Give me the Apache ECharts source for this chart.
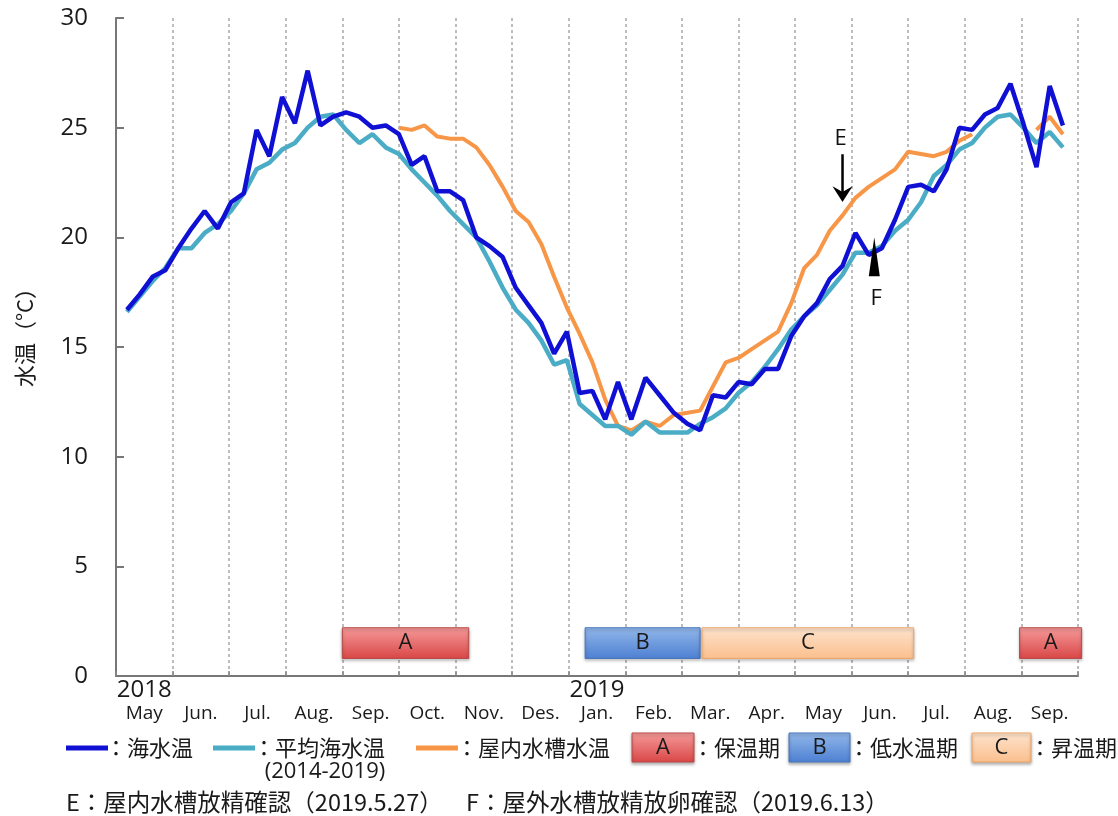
<!DOCTYPE html>
<html>
<head>
<meta charset="utf-8">
<title>水温の推移</title>
<script src="https://cdn.jsdelivr.net/npm/echarts@6/dist/echarts.min.js"></script>
<style>
  html, body { margin: 0; padding: 0; background: #fff; }
  #chart { width: 1118px; height: 816px; }
</style>
</head>
<body>
<div id="chart"></div>
<script>
// Month labels under the axis (one per month, May 2018 – Sep 2019)
const monthLabels = ['May', 'Jun.', 'Jul.', 'Aug.', 'Sep.', 'Oct.', 'Nov.', 'Des.',
                     'Jan.', 'Feb.', 'Mar.', 'Apr.', 'May', 'Jun.', 'Jul.', 'Aug.', 'Sep.'];
const yearLabels = { 0: '2018', 8: '2019' };

// Weekly readings, the first one taken on this date
const firstWeek = '2018-05-07';

// 海水温 (°C)
const seaTemp = [
  16.7, 17.4, 18.2, 18.5, 19.5, 20.4, 21.2, 20.4, 21.6, 22.0,
  24.9, 23.7, 26.4, 25.2, 27.6, 25.1, 25.5, 25.7, 25.5, 25.0,
  25.1, 24.7, 23.3, 23.7, 22.1, 22.1, 21.7, 20.0, 19.6, 19.1,
  17.7, 16.9, 16.1, 14.7, 15.7, 12.9, 13.0, 11.7, 13.4, 11.7,
  13.6, 12.8, 12.0, 11.5, 11.2, 12.8, 12.7, 13.4, 13.3, 14.0,
  14.0, 15.5, 16.4, 17.0, 18.1, 18.7, 20.2, 19.2, 19.5, 20.8,
  22.3, 22.4, 22.1, 23.1, 25.0, 24.9, 25.6, 25.9, 27.0, 25.2,
  23.2, 26.9, 25.1
];

// 平均海水温 2014-2019 (°C)
const avgTemp = [
  16.6, 17.3, 18.0, 18.6, 19.5, 19.5, 20.2, 20.6, 21.2, 22.0,
  23.1, 23.4, 24.0, 24.3, 25.0, 25.5, 25.6, 24.9, 24.3, 24.7,
  24.1, 23.8, 23.1, 22.5, 21.9, 21.2, 20.6, 20.0, 18.9, 17.7,
  16.7, 16.1, 15.3, 14.2, 14.4, 12.4, 11.9, 11.4, 11.4, 11.0,
  11.6, 11.1, 11.1, 11.1, 11.5, 11.8, 12.2, 12.9, 13.4, 14.1,
  14.9, 15.8, 16.4, 16.9, 17.6, 18.3, 19.3, 19.3, 19.6, 20.3,
  20.8, 21.6, 22.8, 23.3, 24.0, 24.3, 25.0, 25.5, 25.6, 25.0,
  24.3, 24.8, 24.1
];

// 屋内水槽水温 (°C), null = not measured
const tankTemp = [
  null, null, null, null, null, null, null, null, null, null,
  null, null, null, null, null, null, null, null, null, null,
  null, 25.0, 24.9, 25.1, 24.6, 24.5, 24.5, 24.1, 23.3, 22.3,
  21.2, 20.7, 19.7, 18.2, 16.8, 15.6, 14.3, 12.6, 11.4, 11.2,
  11.6, 11.4, 11.9, 12.0, 12.1, 13.2, 14.3, 14.5, 14.9, 15.3,
  15.7, 17.0, 18.6, 19.2, 20.3, 21.0, 21.8, 22.3, 22.7, 23.1,
  23.9, 23.8, 23.7, 23.9, 24.4, 24.7, null, null, null, null,
  24.9, 25.5, 24.7
];

// Rearing phases
const phases = [
  { name: 'A', from: '2018-09-01', to: '2018-11-08' },
  { name: 'B', from: '2019-01-10', to: '2019-03-11' },
  { name: 'C', from: '2019-03-12', to: '2019-07-04' },
  { name: 'A', from: '2019-08-31', to: '2019-10-03' }
];
const phaseNames = { A: '保温期', B: '低水温期', C: '昇温期' };

// Spawning observations
const events = [
  { label: 'E', date: '2019-05-27', text: '屋内水槽放精確認', temp: 21.6, dir: 'down' },
  { label: 'F', date: '2019-06-13', text: '屋外水槽放精放卵確認', temp: 20.0, dir: 'up' }
];

// ---- helpers ----
const FONT_LATIN = '"Open Sans", "Noto Sans CJK JP", sans-serif';
const FONT_CJK = '"Noto Sans CJK JP", "Open Sans", sans-serif';

function parseDate(s) {
  const [y, m, d] = s.split('-').map(Number);
  return new Date(Date.UTC(y, m - 1, d));
}
// Position on the month axis: 0 = 1 May 2018, 1 = 1 Jun 2018, ...
function monthPos(date) {
  const y = date.getUTCFullYear(), m = date.getUTCMonth();
  const dim = new Date(Date.UTC(y, m + 1, 0)).getUTCDate();
  return (y - 2018) * 12 + (m - 4) + (date.getUTCDate() - 1) / dim;
}
function weekPos(k) {
  return monthPos(new Date(parseDate(firstWeek).getTime() + k * 7 * 86400000));
}
const toPoints = arr => arr.map((v, k) => [weekPos(k), v]);

const phaseColors = {
  A: ['#f59a9a', '#d94646', '#b84a48'],
  B: ['#92b7ea', '#4d80d2', '#4676bd'],
  C: ['#fde3cd', '#fbbf8d', '#eda66a']
};
const LINE_BLUE = '#1010d4', LINE_CYAN = '#4bacc6', LINE_ORANGE = '#f79646';

const chart = echarts.init(document.getElementById('chart'), null, { renderer: 'canvas' });

const legendRowY = 748;
const swatch = (x, color) => ({ type: 'rect', shape: { x: x, y: legendRowY - 2.5, width: 42, height: 5 }, style: { fill: color } });
const label = (x, y, text, extra) => ({ type: 'text', x: x, y: y, style: Object.assign({ text: text, font: '22px ' + FONT_CJK, fill: '#1a1a1a', verticalAlign: 'middle' }, extra || {}) });
const keyBox = (x, w, name) => {
  const c = phaseColors[name];
  return {
    type: 'group', children: [
      { type: 'rect', shape: { x: x, y: 733, width: w, height: 29 },
        style: { fill: new echarts.graphic.LinearGradient(0, 0, 0, 1, [{ offset: 0, color: c[0] }, { offset: 1, color: c[1] }]),
                 stroke: c[2], lineWidth: 1, shadowBlur: 3, shadowOffsetY: 2, shadowColor: 'rgba(0,0,0,0.3)' } },
      { type: 'text', x: x + w / 2, y: 748, style: { text: name, font: '22px ' + FONT_LATIN, fill: '#1a1a1a', align: 'center', verticalAlign: 'middle' } }
    ]
  };
};
const eventCaption = e => e.label + '：' + e.text + '（' + e.date.split('-').map(Number).join('.') + '）';

const option = {
  animation: false,
  backgroundColor: '#fff',
  grid: { left: 116, right: 40, top: 18, bottom: 140 },
  xAxis: [
    {
      type: 'value', min: 0, max: 17, interval: 1, position: 'bottom',
      axisLine: { show: true, lineStyle: { color: '#777', width: 2 } },
      axisTick: { show: true, inside: true, length: 5, lineStyle: { color: '#888', width: 1.5 } },
      axisLabel: { show: false },
      splitLine: { show: true, lineStyle: { color: '#a8a8a8', width: 1.5, type: [3, 3] } }
    },
    {
      type: 'category', data: monthLabels, position: 'bottom', boundaryGap: true,
      axisLine: { show: false }, axisTick: { show: false }, splitLine: { show: false },
      axisLabel: {
        interval: 0, margin: 2, verticalAlign: 'top',
        formatter: (v, i) => '{y|' + (yearLabels[i] || ' ') + '}\n{m|' + v + '}',
        rich: {
          y: { fontSize: 24, lineHeight: 24, fontFamily: FONT_LATIN, color: '#1a1a1a' },
          m: { fontSize: 19, lineHeight: 24, fontFamily: FONT_LATIN, color: '#1a1a1a' }
        }
      }
    }
  ],
  yAxis: {
    type: 'value', min: 0, max: 30, interval: 5,
    axisLine: { show: true, lineStyle: { color: '#777', width: 2 } },
    axisTick: { show: true, inside: true, length: 8, lineStyle: { color: '#777', width: 2 } },
    axisLabel: { fontSize: 24, fontFamily: FONT_LATIN, color: '#1a1a1a', margin: 28 },
    splitLine: { show: false }
  },
  series: [
    {
      name: '屋内水槽水温', type: 'line', xAxisIndex: 0, data: toPoints(tankTemp),
      showSymbol: false, connectNulls: false, z: 2,
      lineStyle: { color: LINE_ORANGE, width: 4 }, itemStyle: { color: LINE_ORANGE }
    },
    {
      name: '平均海水温', type: 'line', xAxisIndex: 0, data: toPoints(avgTemp),
      showSymbol: false, z: 3,
      lineStyle: { color: LINE_CYAN, width: 4.5 }, itemStyle: { color: LINE_CYAN }
    },
    {
      name: '海水温', type: 'line', xAxisIndex: 0, data: toPoints(seaTemp),
      showSymbol: false, z: 4,
      lineStyle: { color: LINE_BLUE, width: 4.5 }, itemStyle: { color: LINE_BLUE }
    },
    {
      name: 'phases', type: 'custom', xAxisIndex: 0, clip: false, z: 5,
      data: phases.map(p => [monthPos(parseDate(p.from)), monthPos(parseDate(p.to))]),
      renderItem: (params, api) => {
        const p = phases[params.dataIndex];
        const a = api.coord([api.value(0), 2.2]);
        const b = api.coord([api.value(1), 0.8]);
        const c = phaseColors[p.name];
        return {
          type: 'group', children: [
            { type: 'rect', shape: { x: a[0], y: a[1], width: b[0] - a[0], height: b[1] - a[1] },
              style: { fill: new echarts.graphic.LinearGradient(0, 0, 0, 1, [{ offset: 0, color: c[0] }, { offset: 1, color: c[1] }]),
                       stroke: c[2], lineWidth: 1, shadowBlur: 3, shadowOffsetY: 2, shadowColor: 'rgba(0,0,0,0.3)' } },
            { type: 'text', x: (a[0] + b[0]) / 2, y: (a[1] + b[1]) / 2,
              style: { text: p.name, font: '22px ' + FONT_LATIN, fill: '#1a1a1a', align: 'center', verticalAlign: 'middle' } }
          ]
        };
      }
    },
    {
      name: 'events', type: 'custom', xAxisIndex: 0, clip: false, z: 6,
      data: events.map(e => [monthPos(parseDate(e.date)), e.temp]),
      renderItem: (params, api) => {
        const e = events[params.dataIndex];
        const tip = api.coord([api.value(0), api.value(1)]);
        const x = tip[0], y = tip[1];
        if (e.dir === 'down') {
          return {
            type: 'group', children: [
              { type: 'line', shape: { x1: x, y1: y - 48, x2: x, y2: y - 8 }, style: { stroke: '#000', lineWidth: 2.5 } },
              { type: 'polygon', shape: { points: [[x - 7, y - 13], [x, y - 2], [x + 7, y - 13], [x, y - 9]] }, style: { fill: '#000', stroke: '#000', lineWidth: 2 } },
              { type: 'text', x: x - 2, y: y - 64, style: { text: e.label, font: '22px ' + FONT_LATIN, fill: '#111', align: 'center', verticalAlign: 'middle' } }
            ]
          };
        }
        return {
          type: 'group', children: [
            { type: 'polygon', shape: { points: [[x, y], [x - 5.5, y + 39], [x + 5.5, y + 39]] }, style: { fill: '#000' } },
            { type: 'text', x: x + 2, y: y + 61, style: { text: e.label, font: '22px ' + FONT_LATIN, fill: '#111', align: 'center', verticalAlign: 'middle' } }
          ]
        };
      }
    }
  ],
  graphic: [
    { type: 'text', x: 25, y: 332, rotation: Math.PI / 2,
      style: { text: '水温（°C）', font: '22px ' + FONT_CJK, fill: '#1a1a1a', align: 'center', verticalAlign: 'middle' } },
    swatch(66, LINE_BLUE), label(105, legendRowY, '：海水温'),
    swatch(213, LINE_CYAN), label(253, legendRowY, '：平均海水温'),
    label(325, 772, '(2014-2019)', { align: 'center', font: '22px ' + FONT_LATIN }),
    swatch(416, LINE_ORANGE), label(456, legendRowY, '：屋内水槽水温'),
    keyBox(632, 62, 'A'), label(692, legendRowY, '：' + phaseNames.A),
    keyBox(789, 61, 'B'), label(848, legendRowY, '：' + phaseNames.B),
    keyBox(972, 59, 'C'), label(1029, legendRowY, '：' + phaseNames.C),
    label(66, 802, eventCaption(events[0]), { font: '23.5px ' + FONT_CJK }),
    label(466, 802, eventCaption(events[1]), { font: '23.5px ' + FONT_CJK })
  ]
};

chart.setOption(option);
</script>
</body>
</html>
